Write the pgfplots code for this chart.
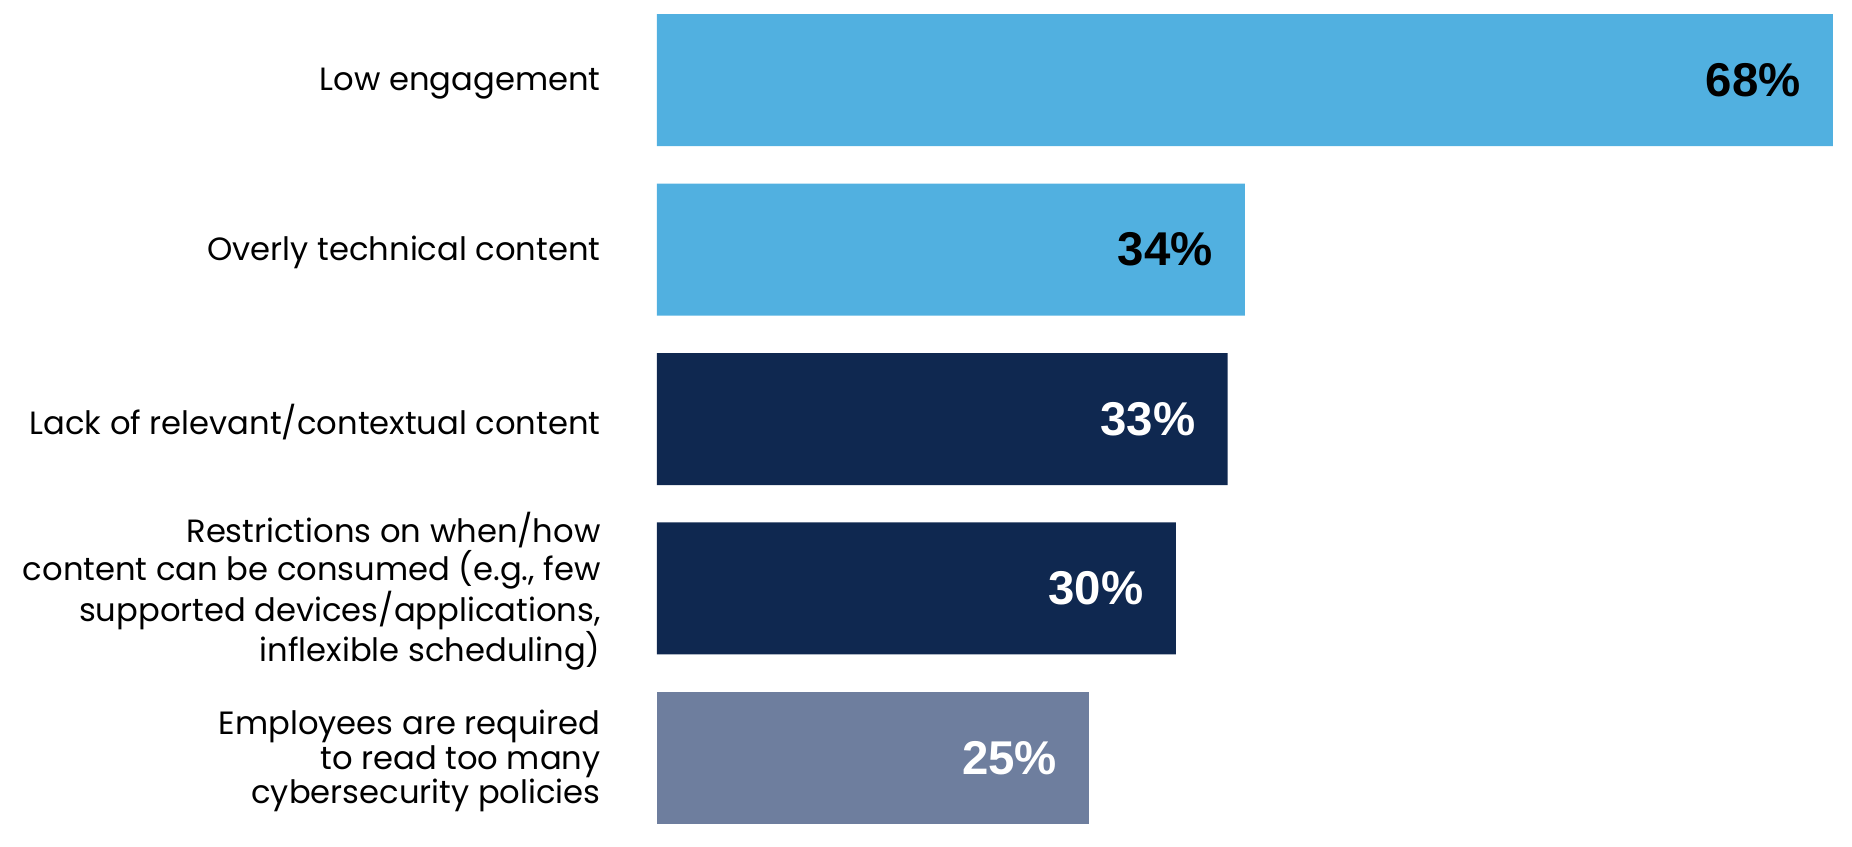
\documentclass[border=0pt]{standalone}
\usepackage{pgfplots}
\pgfplotsset{compat=1.18}
\usepackage{fontspec}
\setmainfont{Poppins}
\newfontfamily\numfont{Liberation Sans}
\definecolor{lightblue}{HTML}{51B0E0}
\definecolor{navy}{HTML}{0F2850}
\definecolor{slate}{HTML}{6E7E9E}
\begin{document}
\begin{tikzpicture}
\begin{axis}[
  at={(0,0)}, anchor=south west,
  scale only axis, width=588pt, height=405pt,
  xbar, bar shift=0pt, bar width=66pt,
  xmin=0, xmax=68, ymin=-0.39, ymax=4.39, y dir=reverse,
  axis line style={draw=none},
  xtick=\empty,
  ytick={0,1,2,3,4},
  yticklabels={{Low engagement},{Overly technical content},{Lack of relevant/contextual content},{Restrictions on when/how\\content can be consumed (e.g., few\\supported devices/applications,\\inflexible scheduling)},{Employees are required\\to read too many\\cybersecurity policies}},
  major tick length=0pt,
  yticklabel style={align=right, inner sep=0pt, xshift=-28pt, yshift=-1.6pt, font=\fontsize{16.1}{17.1}\selectfont},
  clip=false,
  point meta=x,
  /pgf/number format/assume math mode=true,
  nodes near coords={\pgfmathprintnumber{\pgfplotspointmeta}\%},
  nodes near coords style={anchor=east, xshift=-16pt, inner sep=0pt, font=\numfont\bfseries\fontsize{23.7}{28}\selectfont},
]
\addplot[fill=lightblue, draw=none, nodes near coords style={text=black}] coordinates {(68,0) (34,1)};
\addplot[fill=navy, draw=none, nodes near coords style={text=white}] coordinates {(33,2) (30,3)};
\addplot[fill=slate, draw=none, nodes near coords style={text=white}] coordinates {(25,4)};
\end{axis}
\pgfresetboundingbox
\path (-328.5pt,-11pt) rectangle (597.5pt,412pt);
\end{tikzpicture}
\end{document}
